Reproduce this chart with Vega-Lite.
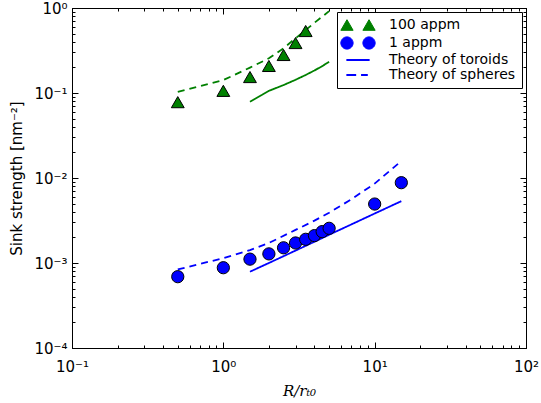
{
  "$schema": "https://vega.github.io/schema/vega-lite/v6.json",
  "width": 454,
  "height": 340,
  "autosize": "none",
  "padding": {"left": 72, "top": 8, "right": 15, "bottom": 55},
  "config": {
    "view": {"stroke": "#000", "strokeWidth": 1},
    "font": "DejaVu Sans",
    "axis": {
      "domainColor": "#000",
      "tickColor": "#000",
      "labelColor": "#000",
      "labelFont": "DejaVu Sans",
      "labelFontSize": 15,
      "grid": false,
      "titleColor": "#000",
      "titleFontWeight": "normal"
    }
  },
  "data": {
    "values": [
      {"x": 0.5, "y": 0.078, "series": "100 appm"},
      {"x": 1, "y": 0.106, "series": "100 appm"},
      {"x": 1.5, "y": 0.154, "series": "100 appm"},
      {"x": 2, "y": 0.208, "series": "100 appm"},
      {"x": 2.5, "y": 0.28, "series": "100 appm"},
      {"x": 3, "y": 0.387, "series": "100 appm"},
      {"x": 3.5, "y": 0.536, "series": "100 appm"},
      {"x": 0.5, "y": 0.00069, "series": "1 appm"},
      {"x": 1, "y": 0.00088, "series": "1 appm"},
      {"x": 1.5, "y": 0.00111, "series": "1 appm"},
      {"x": 2, "y": 0.00128, "series": "1 appm"},
      {"x": 2.5, "y": 0.00151, "series": "1 appm"},
      {"x": 3, "y": 0.00172, "series": "1 appm"},
      {"x": 3.5, "y": 0.0019, "series": "1 appm"},
      {"x": 4, "y": 0.0021, "series": "1 appm"},
      {"x": 4.5, "y": 0.00234, "series": "1 appm"},
      {"x": 5, "y": 0.00256, "series": "1 appm"},
      {"x": 10, "y": 0.00494, "series": "1 appm"},
      {"x": 15, "y": 0.00881, "series": "1 appm"},
      {"x": 1.5, "y": 0.00079, "series": "Theory of toroids", "style": "solid"},
      {"x": 2, "y": 0.001, "series": "Theory of toroids", "style": "solid"},
      {"x": 3, "y": 0.0014, "series": "Theory of toroids", "style": "solid"},
      {"x": 4, "y": 0.00178, "series": "Theory of toroids", "style": "solid"},
      {"x": 5, "y": 0.00215, "series": "Theory of toroids", "style": "solid"},
      {"x": 7, "y": 0.00284, "series": "Theory of toroids", "style": "solid"},
      {"x": 10, "y": 0.00382, "series": "Theory of toroids", "style": "solid"},
      {"x": 15, "y": 0.00534, "series": "Theory of toroids", "style": "solid"},
      {"x": 0.5, "y": 0.00084, "series": "Theory of spheres", "style": "dashed"},
      {"x": 1, "y": 0.00114, "series": "Theory of spheres", "style": "dashed"},
      {"x": 1.5, "y": 0.00142, "series": "Theory of spheres", "style": "dashed"},
      {"x": 2, "y": 0.00172, "series": "Theory of spheres", "style": "dashed"},
      {"x": 3, "y": 0.00245, "series": "Theory of spheres", "style": "dashed"},
      {"x": 4, "y": 0.00315, "series": "Theory of spheres", "style": "dashed"},
      {"x": 5, "y": 0.0039, "series": "Theory of spheres", "style": "dashed"},
      {"x": 7, "y": 0.0056, "series": "Theory of spheres", "style": "dashed"},
      {"x": 10, "y": 0.0086, "series": "Theory of spheres", "style": "dashed"},
      {"x": 15, "y": 0.0158, "series": "Theory of spheres", "style": "dashed"},
      {"x": 1.5, "y": 0.079, "series": "toroids 100 appm", "style": "solid"},
      {"x": 2, "y": 0.106, "series": "toroids 100 appm", "style": "solid"},
      {"x": 2.5, "y": 0.124, "series": "toroids 100 appm", "style": "solid"},
      {"x": 3, "y": 0.143, "series": "toroids 100 appm", "style": "solid"},
      {"x": 3.5, "y": 0.163, "series": "toroids 100 appm", "style": "solid"},
      {"x": 4, "y": 0.184, "series": "toroids 100 appm", "style": "solid"},
      {"x": 4.5, "y": 0.207, "series": "toroids 100 appm", "style": "solid"},
      {"x": 5, "y": 0.233, "series": "toroids 100 appm", "style": "solid"},
      {"x": 0.5, "y": 0.103, "series": "spheres 100 appm", "style": "dashed"},
      {"x": 1, "y": 0.142, "series": "spheres 100 appm", "style": "dashed"},
      {"x": 1.5, "y": 0.199, "series": "spheres 100 appm", "style": "dashed"},
      {"x": 2, "y": 0.256, "series": "spheres 100 appm", "style": "dashed"},
      {"x": 2.5, "y": 0.336, "series": "spheres 100 appm", "style": "dashed"},
      {"x": 3, "y": 0.44, "series": "spheres 100 appm", "style": "dashed"},
      {"x": 3.5, "y": 0.55, "series": "spheres 100 appm", "style": "dashed"},
      {"x": 4, "y": 0.67, "series": "spheres 100 appm", "style": "dashed"},
      {"x": 4.5, "y": 0.79, "series": "spheres 100 appm", "style": "dashed"},
      {"x": 5, "y": 0.92, "series": "spheres 100 appm", "style": "dashed"}
    ]
  },
  "layer": [
    {
      "transform": [{"filter": "datum.style != null"}],
      "mark": {"type": "line", "strokeWidth": 1.8, "clip": true},
      "encoding": {
        "x": {
          "field": "x", "type": "quantitative",
          "scale": {"type": "log", "domain": [0.1, 100], "nice": false},
          "axis": {
            "orient": "bottom",
            "title": "R/rₜ₀",
            "titleFont": "DejaVu Serif",
            "titleFontStyle": "italic",
            "titleFontSize": 15,
            "titlePadding": 6,
            "values": [0.1,0.2,0.3,0.4,0.5,0.6,0.7,0.8,0.9,1,2,3,4,5,6,7,8,9,10,20,30,40,50,60,70,80,90,100],
            "labelExpr": "datum.value == 0.1 ? '10⁻¹' : datum.value == 1 ? '10⁰' : datum.value == 10 ? '10¹' : datum.value == 100 ? '10²' : ''",
            "labelPadding": 17,
            "labelFlush": false,
            "labelOverlap": false,
            "tickSize": {"condition": {"test": "datum.value == 0.1 || datum.value == 1 || datum.value == 10 || datum.value == 100", "value": -6}, "value": -3}
          }
        },
        "y": {
          "field": "y", "type": "quantitative",
          "scale": {"type": "log", "domain": [0.0001, 1], "nice": false},
          "axis": {
            "orient": "left",
            "title": "Sink strength [nm⁻²]",
            "titleFont": "DejaVu Sans",
            "titleFontSize": 15,
            "titlePadding": 9,
            "values": [0.0001,0.0002,0.0003,0.0004,0.0005,0.0006,0.0007,0.0008,0.0009,0.001,0.002,0.003,0.004,0.005,0.006,0.007,0.008,0.009,0.01,0.02,0.03,0.04,0.05,0.06,0.07,0.08,0.09,0.1,0.2,0.3,0.4,0.5,0.6,0.7,0.8,0.9,1],
            "labelExpr": "datum.value == 0.0001 ? '10⁻⁴' : datum.value == 0.001 ? '10⁻³' : datum.value == 0.01 ? '10⁻²' : datum.value == 0.1 ? '10⁻¹' : datum.value == 1 ? '10⁰' : ''",
            "labelPadding": 11,
            "labelFlush": false,
            "labelOverlap": false,
            "tickSize": {"condition": {"test": "datum.value == 0.0001 || datum.value == 0.001 || datum.value == 0.01 || datum.value == 0.1 || datum.value == 1", "value": -6}, "value": -3}
          }
        },
        "color": {
          "field": "series", "type": "nominal",
          "scale": {
            "domain": ["100 appm", "1 appm", "Theory of toroids", "Theory of spheres", "toroids 100 appm", "spheres 100 appm"],
            "range": ["#008000", "#0000ff", "#0000ff", "#0000ff", "#008000", "#008000"]
          },
          "legend": {
            "title": null,
            "values": ["100 appm", "1 appm", "Theory of toroids", "Theory of spheres"],
            "orient": "none",
            "legendX": 265,
            "legendY": 4,
            "strokeColor": "#000",
            "fillColor": "#fff",
            "padding": 6,
            "labelFont": "DejaVu Sans",
            "labelFontSize": 14,
            "labelColor": "#000",
            "labelLimit": 300,
            "labelOffset": 24,
            "symbolSize": 150,
            "symbolOffset": 8,
            "rowPadding": 1,
            "cornerRadius": 0,
            "encode": {
              "symbols": {
                "update": {
                  "shape": {"signal": "datum.value == '100 appm' ? 'M-2.8,0.866L-1.8,-0.866L-0.8,0.866Z M0.8,0.866L1.8,-0.866L2.8,0.866Z' : datum.value == '1 appm' ? 'M-0.8,0A1,1,0,1,1,-2.8,0A1,1,0,1,1,-0.8,0Z M2.8,0A1,1,0,1,1,0.8,0A1,1,0,1,1,2.8,0Z' : datum.value == 'Theory of toroids' ? 'M-1.9,0L1.9,0' : 'M-1.9,0L-0.3,0M0.5,0L1.6,0'"},
                  "fill": {"signal": "datum.value == '100 appm' ? '#008000' : datum.value == '1 appm' ? '#0000ff' : 'transparent'"},
                  "stroke": {"signal": "datum.value == '100 appm' || datum.value == '1 appm' ? '#000' : '#0000ff'"},
                  "strokeWidth": {"signal": "datum.value == '100 appm' || datum.value == '1 appm' ? 1 : 2"},
                  "strokeDash": {"value": []},
                  "opacity": {"value": 1}
                }
              }
            }
          }
        },
        "strokeDash": {
          "field": "style", "type": "nominal",
          "scale": {"domain": ["solid", "dashed"], "range": [[1, 0], [7, 5]]},
          "legend": null
        }
      }
    },
    {
      "transform": [{"filter": "datum.series == '100 appm'"}],
      "mark": {"type": "point", "shape": "triangle-up", "filled": true, "size": 165, "stroke": "#000", "strokeWidth": 1, "opacity": 1},
      "encoding": {
        "x": {
          "field": "x", "type": "quantitative",
          "axis": {
            "orient": "top", "title": null, "labels": false,
            "values": [0.1,0.2,0.3,0.4,0.5,0.6,0.7,0.8,0.9,1,2,3,4,5,6,7,8,9,10,20,30,40,50,60,70,80,90,100],
            "tickSize": {"condition": {"test": "datum.value == 0.1 || datum.value == 1 || datum.value == 10 || datum.value == 100", "value": -6}, "value": -3}
          }
        },
        "y": {
          "field": "y", "type": "quantitative",
          "axis": {
            "orient": "right", "title": null, "labels": false,
            "values": [0.0001,0.0002,0.0003,0.0004,0.0005,0.0006,0.0007,0.0008,0.0009,0.001,0.002,0.003,0.004,0.005,0.006,0.007,0.008,0.009,0.01,0.02,0.03,0.04,0.05,0.06,0.07,0.08,0.09,0.1,0.2,0.3,0.4,0.5,0.6,0.7,0.8,0.9,1],
            "tickSize": {"condition": {"test": "datum.value == 0.0001 || datum.value == 0.001 || datum.value == 0.01 || datum.value == 0.1 || datum.value == 1", "value": -6}, "value": -3}
          }
        },
        "color": {"field": "series", "type": "nominal"}
      }
    },
    {
      "transform": [{"filter": "datum.series == '1 appm'"}],
      "mark": {"type": "point", "shape": "circle", "filled": true, "size": 150, "stroke": "#000", "strokeWidth": 1, "opacity": 1},
      "encoding": {
        "x": {"field": "x", "type": "quantitative", "axis": null},
        "y": {"field": "y", "type": "quantitative", "axis": null},
        "color": {"field": "series", "type": "nominal"}
      }
    }
  ]
}
